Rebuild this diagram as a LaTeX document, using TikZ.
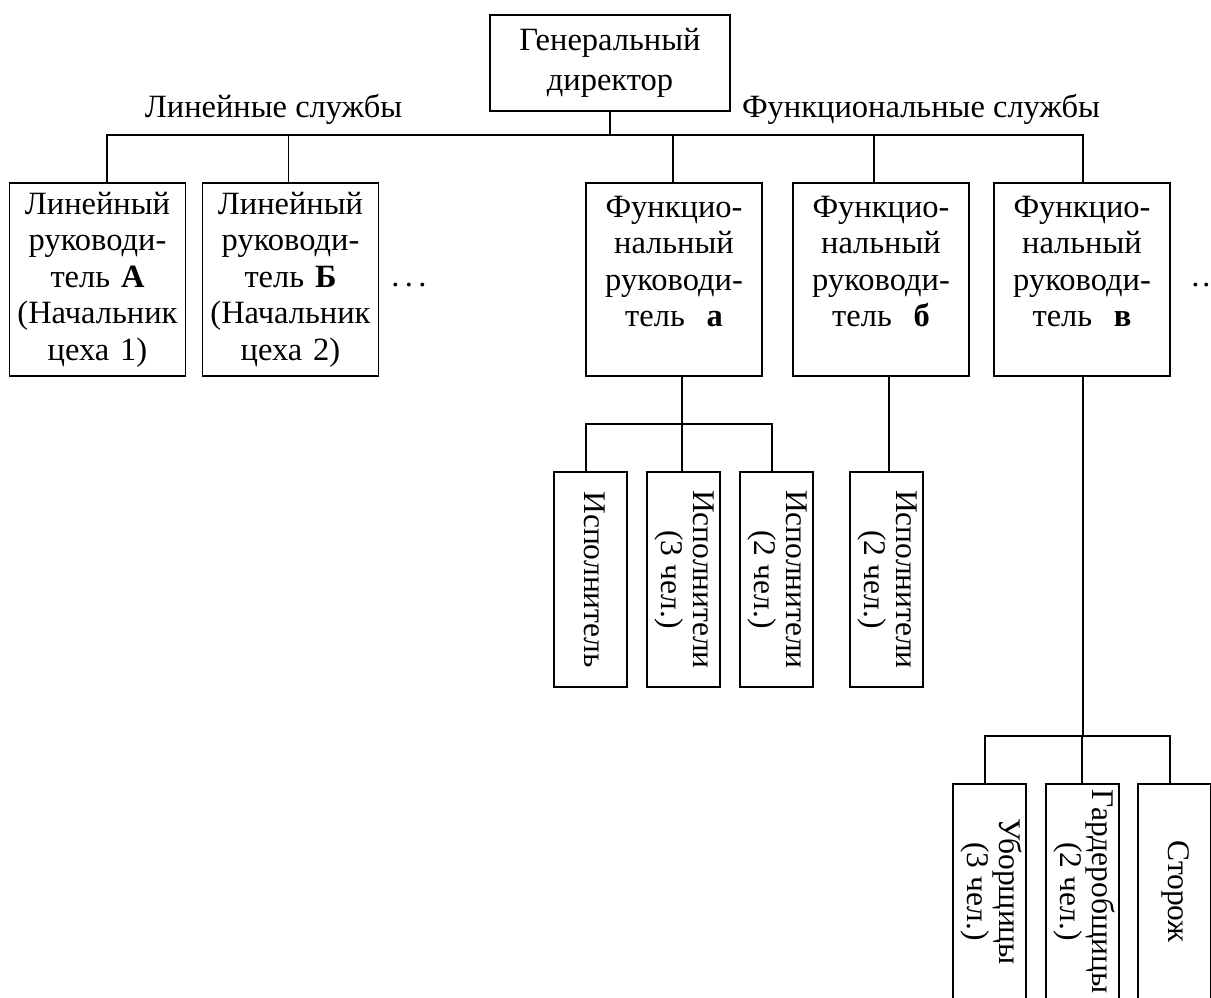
\documentclass[tikz,border=0pt]{standalone}
\usepackage{fontspec}
\setmainfont{Liberation Serif}
\usetikzlibrary{positioning}
\newcommand{\vlabel}[1]{\rotatebox{-90}{\begin{tabular}{@{}c@{}}#1\end{tabular}}}

\begin{document}
\begin{tikzpicture}[x=1pt, y=-1pt,
  font=\fontsize{32.5}{36.5}\selectfont,
  line width=1.8pt,
  dirbox/.style={draw, minimum width=240pt, minimum height=96pt, align=center, inner sep=0pt,
    outer sep=0pt, font=\fontsize{32.5}{40}\selectfont},
  headbox/.style={draw, minimum width=176pt, minimum height=193pt, text width=172pt,
    align=center, inner sep=0pt, outer sep=0pt},
  workerbox/.style={draw, minimum width=73pt, minimum height=215pt, inner sep=0pt,
    outer sep=0pt, font=\fontsize{31.5}{32}\selectfont},
  caption/.style={anchor=base}
]
\useasboundingbox (0,0) rectangle (1211,997);

% top
\node[dirbox] (dir) at (610,63) {Генеральный\\директор};
\node[caption] (linlbl) at (273.5,117.5) {Линейные службы};
\node[caption] (funlbl) at (921,117.5) {Функциональные службы};
\coordinate (bus) at (610,135);
\draw (dir) -- (bus);

% line and functional services
\node[headbox] (la) at (97.5,279.5) {Линейный\\руководи-\\тель \textbf{А}\\(Начальник\\цеха 1)};
\node[headbox, right=17pt of la] (lb) {Линейный\\руководи-\\тель \textbf{Б}\\(Начальник\\цеха 2)};
\node[headbox, right=207.5pt of lb] (fa) {Функцио-\\нальный\\руководи-\\тель\ \ \textbf{а}\\\mbox{}};
\node[headbox, right=31pt of fa] (fb) {Функцио-\\нальный\\руководи-\\тель\ \ \textbf{б}\\\mbox{}};
\node[headbox, right=25pt of fb] (fc) {Функцио-\\нальный\\руководи-\\тель\ \ \textbf{в}\\\mbox{}};
\node[caption] (ldots) at (409,286) {.\,.\,.};
\node[caption, anchor=base west] (fdots) at (1186,286) {\dots};
\foreach \n/\s in {la/9.5, lb/-2, fa/-1, fb/-7, fc/1} \draw ([xshift=\s pt]\n.north) |- (bus);

% workers of a
\node[workerbox] (e1) at (590.5,579.5) {\vlabel{Исполнитель}};
\node[workerbox, right=20pt of e1] (e2) {\vlabel{Исполнители\\(3 чел.)}};
\node[workerbox, right=20pt of e2] (e3) {\vlabel{Исполнители\\(2 чел.)}};
\coordinate (hubA) at (682,424);
\draw (hubA) -- (hubA |- fa.south);
\foreach \n/\s in {e1/-4.5, e2/-1.5, e3/-4.5} \draw ([xshift=\s pt]\n.north) |- (hubA);

% workers of b
\node[workerbox] (eb) at (886.5,579.5) {\vlabel{Исполнители\\(2 чел.)}};
\coordinate (ebtop) at ([xshift=2.5pt]eb.north);
\draw (ebtop) -- (ebtop |- fb.south);

% workers of c
\node[workerbox] (u1) at (989.5,891.5) {\vlabel{Уборщицы\\(3 чел.)}};
\node[workerbox, right=20pt of u1] (u2) {\vlabel{Гардеробщицы\\(2 чел.)}};
\node[workerbox, right=19pt of u2] (u3) {\vlabel{Сторож}};
\coordinate (hubC) at (1083,736);
\draw (hubC) -- (hubC |- fc.south);
\foreach \n/\s in {u1/-4.5, u2/-0.5, u3/-4.5} \draw ([xshift=\s pt]\n.north) |- (hubC);
\end{tikzpicture}
\end{document}
